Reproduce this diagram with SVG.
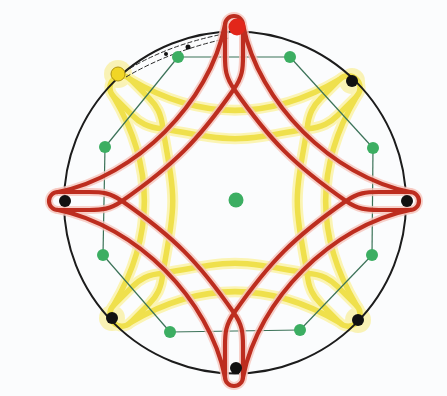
<svg xmlns="http://www.w3.org/2000/svg" width="447" height="396" viewBox="0 0 447 396">
  <style>
    .ring { fill: none; stroke: #1c1c1c; stroke-width: 2; }
    .oct { stroke: #3b7258; stroke-width: 1.2; fill: none; }
    .gdot { fill: #3cae62; }
    .bdot { fill: #111; }
    .glow { fill: #f8ef9c; opacity: 0.75; }
    .yhalo { fill: none; stroke: #fbf4b4; stroke-width: 11; stroke-linecap: round; stroke-linejoin: round; }
    .ycore { fill: none; stroke: #efe04c; stroke-width: 5.5; stroke-linecap: round; stroke-linejoin: round; }
    .rhalo { fill: none; stroke: #f6c4bb; stroke-width: 8; stroke-linecap: round; stroke-linejoin: round; opacity: 0.8; }
    .rcore { fill: none; stroke: #bd2d1f; stroke-width: 4.2; stroke-linecap: round; stroke-linejoin: round; }
    .dash { fill: none; stroke: #2a2a2a; stroke-width: 1; stroke-dasharray: 5 2; }
  </style>
  <defs>
    <path id="yLoop" d="M 102,0 C 114,10 123,12 133,12 L 160,12 A 12 12 0 0 0 160,-12 L 133,-12 C 123,-12 114,-10 102,0 C 40,43.4 43.4,40 0,102 C -10,114 -12,123 -12,133 L -12,160 A 12 12 0 0 0 12,160 L 12,133 C 12,123 10,114 0,102 C -43.4,40 -40,43.4 -102,0 C -114,-10 -123,-12 -133,-12 L -160,-12 A 12 12 0 0 0 -160,12 L -133,12 C -123,12 -114,10 -102,0 C -40,-43.4 -43.4,-40 0,-102 C 10,-114 12,-123 12,-133 L 12,-160 A 12 12 0 0 0 -12,-160 L -12,-133 C -12,-123 -10,-114 0,-102 C 43.4,-40 40,-43.4 102,0 Z"/>
    <path id="yOuter" d="M 160,-12 C 82,-32 32,-82 12,-160 M -12,-160 C -32,-82 -82,-32 -160,-12 M -160,12 C -82,32 -32,82 -12,160 M 12,160 C 32,82 82,32 160,12"/>
    <path id="rLoop" d="M 112,0 C 124,8.4 132,9 145,9 L 176,9 A 9 9 0 0 0 176,-9 L 145,-9 C 132,-9 124,-8.4 112,0 C 60.3,36 36,60.3 0,112 C -8.4,124 -9,132 -9,145 L -9,176 A 9 9 0 0 0 9,176 L 9,145 C 9,132 8.4,124 0,112 C -36,60.3 -60.3,36 -112,0 C -124,-8.4 -132,-9 -145,-9 L -176,-9 A 9 9 0 0 0 -176,9 L -145,9 C -132,9 -124,8.4 -112,0 C -60.3,-36 -36,-60.3 0,-112 C 8.4,-124 9,-132 9,-145 L 9,-176 A 9 9 0 0 0 -9,-176 L -9,-145 C -9,-132 -8.4,-124 0,-112 C 36,-60.3 60.3,-36 112,0 Z"/>
    <path id="rOuter" d="M 176,-9 C 98,-24.7 24.7,-98 9,-176 M -9,-176 C -24.7,-98 -98,-24.7 -176,-9 M -176,9 C -98,24.7 -24.7,98 -9,176 M 9,176 C 24.7,98 98,24.7 176,9"/>
  </defs>

  <rect x="0" y="0" width="447" height="396" fill="#fbfcfd"/>

  <g id="glows">
    <circle class="glow" cx="118" cy="74" r="14"/>
    <circle class="glow" cx="352" cy="81" r="13"/>
    <circle class="glow" cx="112" cy="318" r="13"/>
    <circle class="glow" cx="358" cy="320" r="13"/>
  </g>

  <g id="yellow-star" transform="translate(235,201) rotate(45)">
    <use href="#yLoop" class="yhalo"/>
    <use href="#yOuter" class="yhalo"/>
    <use href="#yLoop" class="ycore"/>
    <use href="#yOuter" class="ycore"/>
  </g>

  <g id="circle">
    <circle class="ring" cx="235" cy="202.5" r="171"/>
  </g>

  <g id="connectors">
    <line class="oct" x1="178" y1="57" x2="290" y2="57"/>
    <line class="oct" x1="290" y1="57" x2="373" y2="148"/>
    <line class="oct" x1="373" y1="148" x2="372" y2="255"/>
    <line class="oct" x1="372" y1="255" x2="300" y2="330"/>
    <line class="oct" x1="300" y1="330" x2="170" y2="332"/>
    <line class="oct" x1="170" y1="332" x2="103" y2="255"/>
    <line class="oct" x1="103" y1="255" x2="105" y2="147"/>
    <line class="oct" x1="105" y1="147" x2="178" y2="57"/>
    <path class="dash" d="M 124,72 Q 168,44 229,33"/>
    <path class="dash" d="M 126,77 Q 172,50 229,38"/>
  </g>

  <g id="red-star" transform="translate(234,201)">
    <use href="#rLoop" class="rhalo"/>
    <use href="#rOuter" class="rhalo"/>
    <use href="#rLoop" class="rcore"/>
    <use href="#rOuter" class="rcore"/>
  </g>

  <g id="green-dots">
    <circle id="g1" class="gdot" cx="178" cy="57" r="6"/>
    <circle id="g2" class="gdot" cx="290" cy="57" r="6"/>
    <circle id="g3" class="gdot" cx="373" cy="148" r="6"/>
    <circle id="g4" class="gdot" cx="372" cy="255" r="6"/>
    <circle id="g5" class="gdot" cx="300" cy="330" r="6"/>
    <circle id="g6" class="gdot" cx="170" cy="332" r="6"/>
    <circle id="g7" class="gdot" cx="103" cy="255" r="6"/>
    <circle id="g8" class="gdot" cx="105" cy="147" r="6"/>
    <circle id="g-center" class="gdot" cx="236" cy="200" r="7.5"/>
  </g>

  <g id="rim-dots">
    <circle id="p-top" cx="237" cy="27" r="8.5" fill="#e2261a"/>
    <circle id="p-tl" cx="118" cy="74" r="7" fill="#f1d625" stroke="#b0940f" stroke-width="1"/>
    <circle id="p-tr" class="bdot" cx="352" cy="81" r="6"/>
    <circle id="p-left" class="bdot" cx="65" cy="201" r="6"/>
    <circle id="p-right" class="bdot" cx="407" cy="201" r="6"/>
    <circle id="p-bl" class="bdot" cx="112" cy="318" r="6"/>
    <circle id="p-br" class="bdot" cx="358" cy="320" r="6"/>
    <circle id="p-bottom" class="bdot" cx="236" cy="368" r="6"/>
    <circle class="bdot" cx="188" cy="47" r="2.5"/>
    <circle class="bdot" cx="166" cy="54" r="2"/>
  </g>
</svg>
